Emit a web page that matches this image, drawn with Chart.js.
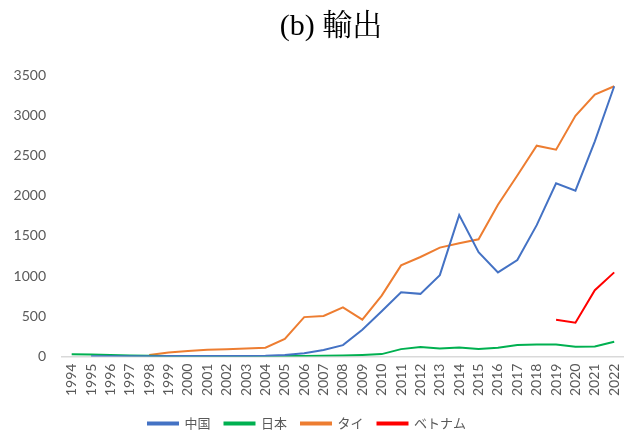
<!DOCTYPE html>
<html>
<head>
<meta charset="utf-8">
<script src="https://cdn.jsdelivr.net/npm/chart.js@4/dist/chart.umd.min.js"></script>
<style>
html,body{margin:0;padding:0;background:#fff;}
#wrap{width:638px;height:430px;position:relative;}
</style>
</head>
<body>
<div id="wrap"><canvas id="c" width="638" height="430"></canvas></div>
<script>
const years = ['1994','1995','1996','1997','1998','1999','2000','2001','2002','2003','2004','2005','2006','2007','2008','2009','2010','2011','2012','2013','2014','2015','2016','2017','2018','2019','2020','2021','2022'];
const china = [null,3,3,4,4,5,5,6,7,8,10,20,42,80,142,333,562,800,779,1012,1758,1296,1046,1200,1633,2154,2062,2675,3360];
const japan = [28,24,18,12,10,8,6,5,5,5,6,7,8,10,14,20,30,92,117,100,112,92,110,142,150,150,121,125,183];
const thai = [null,null,null,null,20,50,70,85,90,100,110,220,490,505,612,458,758,1133,1237,1354,1408,1458,1887,2250,2621,2571,2992,3258,3360];
const vietnam = [null,null,null,null,null,null,null,null,null,null,null,null,null,null,null,null,null,null,null,null,null,null,null,null,null,458,421,825,1046];
const yTicks = [0,500,1000,1500,2000,2500,3000,3500];
const seriesNames = ['中国','日本','タイ','ベトナム'];
const colors = ['#4472C4','#00B050','#ED7D31','#FF0000'];
const titleText = '(b) 輸出';

const font = "Lato, 'Noto Sans CJK JP', sans-serif";
const allData = [china, japan, thai, vietnam];

const blockShift = {
  id: 'blockShift',
  afterLayout(chart) {
    if (chart.titleBlock) chart.titleBlock.left = 24;
    if (chart.legend) { chart.legend.left -= 12; chart.legend.right -= 12; }
  }
};

new Chart(document.getElementById('c'), {
  type: 'line',
  data: {
    labels: years,
    datasets: allData.map((d, i) => ({
      label: seriesNames[i],
      data: d,
      borderColor: colors[i],
      backgroundColor: colors[i],
      borderWidth: 2,
      pointRadius: 0,
      tension: 0,
      spanGaps: false
    }))
  },
  plugins: [blockShift],
  options: {
    responsive: false,
    animation: false,
    layout: { padding: { left: 0, right: 0, top: 0, bottom: -10 } },
    plugins: {
      title: {
        display: true,
        text: titleText,
        color: '#000',
        font: { family: "'Liberation Serif', 'Noto Serif CJK JP', 'Noto Sans CJK JP', serif", size: 30, weight: 'normal' },
        padding: { top: 9, bottom: 30 }
      },
      legend: {
        position: 'bottom',
        labels: {
          boxWidth: 30,
          boxHeight: 2,
          color: '#595959',
          font: { family: font, size: 13 },
          padding: 14
        }
      },
      tooltip: { enabled: false }
    },
    scales: {
      x: {
        offset: true,
        grid: { display: false, drawTicks: false },
        border: { display: true, color: '#D9D9D9', width: 1.5 },
        ticks: {
          color: '#595959',
          font: { family: font, size: 14 },
          minRotation: 90,
          maxRotation: 90,
          autoSkip: false,
          padding: 7
        }
      },
      y: {
        min: 0,
        max: 3500,
        afterBuildTicks: (s) => { s.ticks = yTicks.map(v => ({ value: v })); },
        afterFit: (s) => { s.width = 62; },
        grid: { display: false, drawTicks: false },
        border: { display: false },
        ticks: {
          color: '#595959',
          font: { family: font, size: 14 },
          padding: 16,
          callback: (v) => String(v)
        }
      }
    }
  }
});
</script>
</body>
</html>
